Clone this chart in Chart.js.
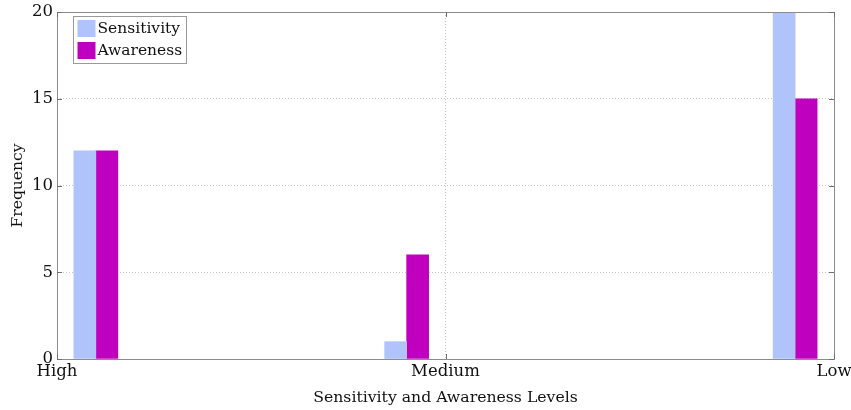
<!DOCTYPE html>
<html>
<head>
<meta charset="utf-8">
<script src="https://cdn.jsdelivr.net/npm/chart.js@4.4.1/dist/chart.umd.min.js"></script>
<style>
  html, body { margin: 0; padding: 0; background: #fff; }
  #wrap { width: 851px; height: 410px; position: relative; }
</style>
</head>
<body>
<div id="wrap"><canvas id="c" width="851" height="410"></canvas></div>
<script>
// Level categories and histogram bin centres along the x axis
const categories = ['High', 'Medium', 'Low'];
const binCenters = [0.1, 0.9, 1.9];

// Frequency counts per level
const sensitivity = [12, 1, 20];
const awareness = [12, 6, 15];

// Y axis range and tick step
const yMax = 20;
const yStep = 5;

const FONT = '"DejaVu Serif", "Liberation Serif", serif';
const AXIS_COLOR = '#8c8c8c';
const GRID_COLOR = '#c4c4c4';

function points(values) {
  return values.map((v, i) => ({ x: binCenters[i], y: v }));
}

// Frame around the plot area with short inward tick marks, plus an in-plot legend
const framePlugin = {
  id: 'frame',
  afterDatasetsDraw(chart) {
    const { ctx, chartArea: a, scales } = chart;
    ctx.save();
    ctx.strokeStyle = AXIS_COLOR;
    ctx.lineWidth = 1;
    ctx.strokeRect(Math.round(a.left) + 0.5, Math.round(a.top) + 0.5,
      Math.round(a.right - a.left), Math.round(a.bottom - a.top));
    ctx.strokeStyle = '#707070';
    ctx.beginPath();
    scales.y.ticks.forEach(t => {
      const y = Math.round(scales.y.getPixelForValue(t.value)) + 0.5;
      ctx.moveTo(a.left, y); ctx.lineTo(a.left + 5, y);
      ctx.moveTo(a.right, y); ctx.lineTo(a.right - 5, y);
    });
    scales.x.ticks.forEach(t => {
      const x = Math.round(scales.x.getPixelForValue(t.value)) + 0.5;
      ctx.moveTo(x, a.bottom); ctx.lineTo(x, a.bottom - 5);
      ctx.moveTo(x, a.top); ctx.lineTo(x, a.top + 5);
    });
    ctx.stroke();

    // legend box
    const lx = Math.round(a.left) + 16.5, ly = Math.round(a.top) + 4.5;
    ctx.fillStyle = '#fff';
    ctx.fillRect(lx, ly, 113, 47);
    ctx.strokeStyle = '#9a9a9a';
    ctx.strokeRect(lx, ly, 113, 47);
    ctx.font = '15.5px ' + FONT;
    ctx.textBaseline = 'middle';
    chart.data.datasets.forEach((ds, i) => {
      const sy = ly + 3.5 + i * 22;
      ctx.fillStyle = ds.backgroundColor;
      ctx.fillRect(lx + 4, sy, 18, 17);
      ctx.fillStyle = '#111';
      ctx.fillText(ds.label, lx + 24, sy + 9);
    });
    ctx.restore();
  }
};

new Chart(document.getElementById('c'), {
  type: 'bar',
  data: {
    datasets: [
      { label: 'Sensitivity', data: points(sensitivity), backgroundColor: '#b0c4fb', borderWidth: 0 },
      { label: 'Awareness', data: points(awareness), backgroundColor: '#bf00bf', borderWidth: 0 }
    ]
  },
  options: {
    responsive: false,
    animation: false,
    devicePixelRatio: 1,
    barThickness: 22,
    layout: { padding: { top: 12, right: 17, left: 0, bottom: 0 } },
    plugins: { legend: { display: false }, tooltip: { enabled: false } },
    scales: {
      x: {
        type: 'linear',
        min: 0,
        max: 2,
        offset: false,
        ticks: {
          stepSize: 1,
          autoSkip: false,
          maxRotation: 0,
          padding: 3,
          color: '#111',
          font: { family: FONT, size: 16.5 },
          callback: v => categories[v]
        },
        grid: {
          offset: false,
          color: ctx => (ctx.tick && ctx.tick.value === 1) ? GRID_COLOR : 'rgba(0,0,0,0)',
          drawTicks: false
        },
        border: { display: false, dash: [1, 2] },
        title: {
          display: true,
          text: 'Sensitivity and Awareness Levels',
          color: '#111',
          font: { family: FONT, size: 15.7 },
          padding: { top: 0, bottom: 3 }
        },
        afterFit: s => { s.height = 51; s.paddingLeft = 0; s.paddingRight = 0; }
      },
      y: {
        min: 0,
        max: yMax,
        ticks: {
          stepSize: yStep,
          padding: 4,
          color: '#111',
          font: { family: FONT, size: 16.5 }
        },
        grid: {
          color: ctx => (ctx.tick && ctx.tick.value > 0 && ctx.tick.value < yMax) ? GRID_COLOR : 'rgba(0,0,0,0)',
          drawTicks: false
        },
        border: { display: false, dash: [1, 2] },
        title: {
          display: true,
          text: 'Frequency',
          color: '#111',
          font: { family: FONT, size: 15.5 },
          padding: { top: 9, bottom: 0 }
        },
        afterFit: s => { s.width = 57; s.paddingTop = 0; s.paddingBottom = 0; }
      }
    }
  },
  plugins: [framePlugin]
});
</script>
</body>
</html>
